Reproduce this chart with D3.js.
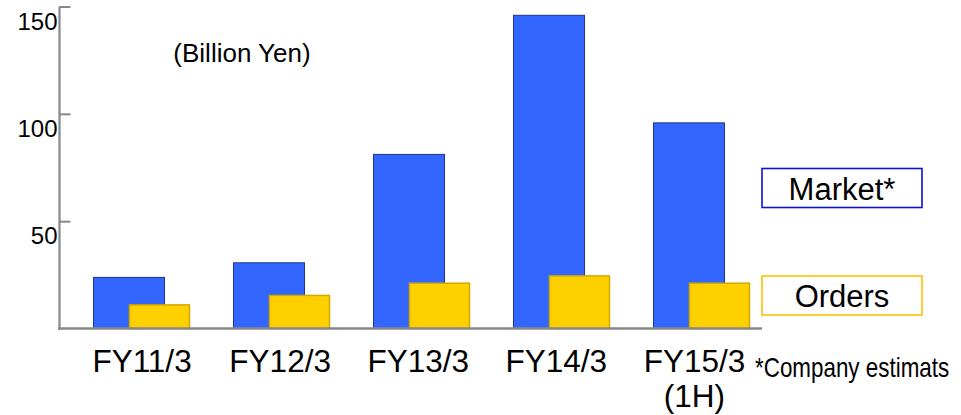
<!DOCTYPE html>
<html>
<head>
<meta charset="utf-8">
<script src="https://cdn.jsdelivr.net/npm/d3@7"></script>
<style>
  html, body { margin: 0; padding: 0; background: #ffffff; }
  svg { display: block; font-family: "Liberation Sans", Arial, sans-serif; }
</style>
</head>
<body>
<svg id="chart" width="961" height="415"></svg>
<script>
// ---- data ----
const categories = ["FY11/3", "FY12/3", "FY13/3", "FY14/3", "FY15/3"];
const categorySubLabels = ["", "", "", "", "(1H)"];
const marketValues = [23.8, 30.6, 81.1, 145.9, 95.8];
const orderValues = [11.0, 15.4, 21.1, 24.5, 21.1];
const yTicks = [50, 100, 150];
const seriesNames = ["Market*", "Orders"];
const unitLabel = "(Billion Yen)";
const footnote = "*Company estimats";

// ---- layout ----
const svg = d3.select("#chart");
const baseY = 328.5, topY = 6.5, axisX = 59.5;

const y = d3.scaleLinear().domain([0, 150]).range([baseY, topY]);
const x = d3.scaleBand().domain(categories).range([71, 771]).padding(0);
const xLab = d3.scaleBand().domain(categories).range([73, 763.5]).padding(0);

const colors = { market: "#3366FF", marketStroke: "#1c3590", orders: "#FFD000", ordersStroke: "#CFA800" };

// Market bars
svg.append("g").selectAll("rect").data(marketValues).join("rect")
  .attr("x", (d, i) => x(categories[i]) + x.bandwidth() / 2 - 47.5)
  .attr("width", 71)
  .attr("y", d => y(d))
  .attr("height", d => baseY - y(d))
  .attr("fill", colors.market)
  .attr("stroke", colors.marketStroke)
  .attr("stroke-width", 1);

// Orders bars
svg.append("g").selectAll("rect").data(orderValues).join("rect")
  .attr("x", (d, i) => x(categories[i]) + x.bandwidth() / 2 - 11.5)
  .attr("width", 60)
  .attr("y", d => y(d))
  .attr("height", d => baseY - y(d))
  .attr("fill", colors.orders)
  .attr("stroke", colors.ordersStroke)
  .attr("stroke-width", 1.5);

// Y axis line + inner ticks
const yAxisG = svg.append("g").attr("transform", `translate(${axisX},0)`)
  .call(d3.axisRight(y).tickValues(yTicks).tickSize(11).tickFormat(""));
yAxisG.select(".domain").remove();
yAxisG.selectAll(".tick line").attr("stroke", "#888888").attr("stroke-width", 2);
svg.append("line")
  .attr("x1", axisX).attr("x2", axisX)
  .attr("y1", y(150)).attr("y2", baseY + 1)
  .attr("stroke", "#888888").attr("stroke-width", 2.2);

// Y tick labels
const yLabG = svg.append("g").attr("transform", `translate(${axisX - 2},0)`)
  .call(d3.axisLeft(y).tickValues(yTicks).tickSize(0).tickPadding(0));
yLabG.select(".domain").remove();
yLabG.selectAll(".tick text")
  .attr("font-size", 24)
  .attr("font-family", "Liberation Sans, Arial, sans-serif")
  .attr("fill", "#000")
  .attr("dy", "0.95em");

// X axis baseline
svg.append("line")
  .attr("x1", 58).attr("x2", 762)
  .attr("y1", baseY).attr("y2", baseY)
  .attr("stroke", "#888888").attr("stroke-width", 2.6);

// X labels
const xl = svg.append("g").selectAll("text").data(categories).join("text")
  .attr("x", d => xLab(d) + xLab.bandwidth() / 2)
  .attr("y", 372)
  .attr("text-anchor", "middle")
  .attr("font-size", 31.5)
  .attr("fill", "#000");
xl.append("tspan").text(d => d);
xl.append("tspan")
  .attr("x", d => xLab(d) + xLab.bandwidth() / 2)
  .attr("dy", 35)
  .text((d, i) => categorySubLabels[i]);

// unit label
svg.append("text")
  .attr("x", 242).attr("y", 62)
  .attr("text-anchor", "middle")
  .attr("font-size", 26)
  .attr("fill", "#000")
  .text(unitLabel);

// Legend
const legend = [
  { name: seriesNames[0], stroke: "#0A12CC", top: 168.5, base: 200 },
  { name: seriesNames[1], stroke: "#FFC000", top: 276, base: 307 }
];
const lg = svg.append("g").selectAll("g").data(legend).join("g");
lg.append("rect")
  .attr("x", 762).attr("y", d => d.top)
  .attr("width", 160).attr("height", 39)
  .attr("fill", "#fff")
  .attr("stroke", d => d.stroke).attr("stroke-width", 1.6);
lg.append("text")
  .attr("x", 842).attr("y", d => d.base)
  .attr("text-anchor", "middle")
  .attr("font-size", 31)
  .attr("fill", "#000")
  .text(d => d.name);

// footnote (condensed horizontally)
svg.append("text")
  .attr("transform", "translate(755,376.5) scale(0.83,1)")
  .attr("x", 0).attr("y", 0)
  .attr("font-size", 27)
  .attr("fill", "#000")
  .text(footnote);
</script>
</body>
</html>
